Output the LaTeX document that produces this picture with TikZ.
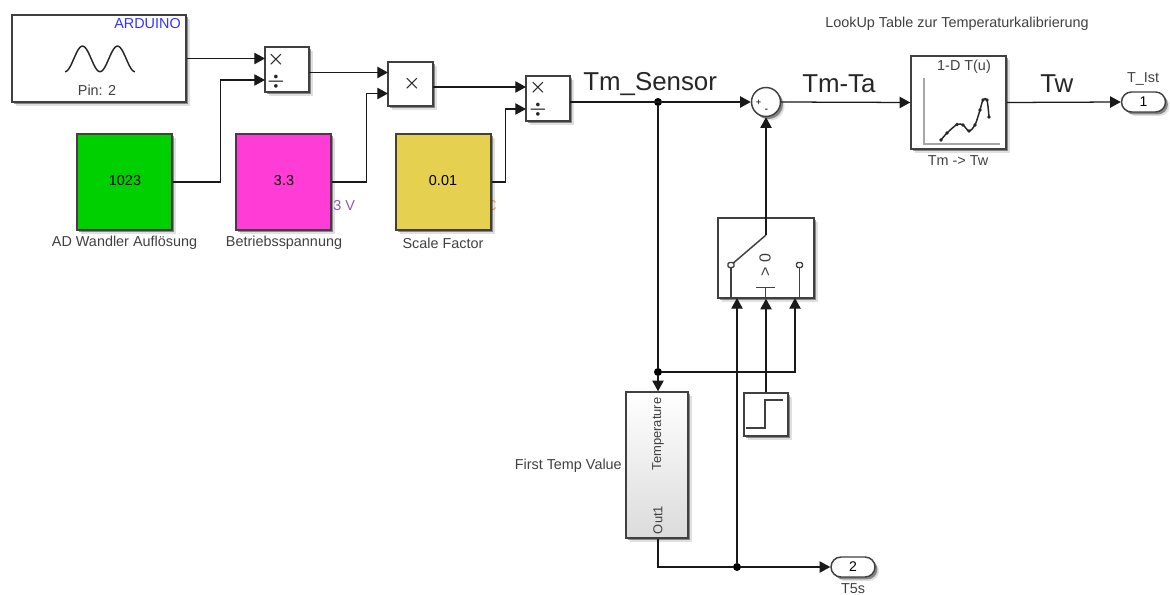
\documentclass[tikz,border=0pt]{standalone}
\usepackage{fontspec}
\setmainfont{Liberation Sans}
\usepackage{xcolor}
\usetikzlibrary{arrows.meta, positioning, calc, shadows, shapes.misc}

\definecolor{konstgruen}{RGB}{0,208,0}
\definecolor{konstmagenta}{RGB}{255,60,214}
\definecolor{konstgelb}{RGB}{230,208,80}

\tikzset{
  block/.style 2 args={draw=black!75, line width=1.1pt, fill=white, inner sep=0pt,
    minimum width=#1*0.75pt, minimum height=#2*0.75pt,
    drop shadow={shadow xshift=3pt, shadow yshift=-3pt, fill=black, opacity=0.12},
    drop shadow={shadow xshift=1.8pt, shadow yshift=-1.8pt, fill=black, opacity=0.4}},
  port/.style={block={44}{20}, rounded rectangle, font=\fontsize{10.5pt}{12pt}\selectfont},
  sig/.style={line width=0.95pt, black!90, -{Triangle[length=8pt, width=8.5pt]}},
  wire/.style={line width=0.95pt, black!90},
  dot/.style={circle, fill=black, inner sep=0pt, minimum size=6pt},
  lbl/.style={black!75, inner sep=0pt, font=\fontsize{10.8pt}{12pt}\selectfont},
  smalllbl/.style={black!75, inner sep=0pt, font=\fontsize{9.7pt}{11pt}\selectfont},
  sym/.style={black!85, inner sep=0pt, font=\fontsize{14pt}{14pt}\selectfont\boldmath},
  big/.style={black!85, inner sep=0pt, font=\fontsize{19.4pt}{22pt}\selectfont},
  icon/.style={line width=1.1pt, black!75},
}

\begin{document}
\begin{tikzpicture}[x=0.75pt, y=-0.75pt]
  \useasboundingbox (0,0) rectangle (1170,595);

  % === Eingang und Konstanten ===
  \node[block={174}{87}] (arduino) at (99,58.5) {};
  \node[lbl, anchor=east, text=blue!80!white] (arduinotxt) at (181,24) {ARDUINO};
  \node[lbl] (pin) at (97,90) {Pin: 2};
  \draw[icon, black!85] plot[domain=0:2, samples=60, smooth] ({65+35*\x}, {58.9+12.8*cos(360*\x)});

  \node[lbl, anchor=west, text={rgb,255:red,140;green,90;blue,190}] (spannungtxt) at (333,206) {3 V};
  \node[lbl, anchor=east, text={rgb,255:red,235;green,180;blue,60}] (faktortxt) at (497,206) {C};

  \node[block={95}{96}, fill=konstgruen] (wandler) at (124.5,182) {};
  \node[lbl, black] (wandlerwert) at (125,181) {1023};
  \node[lbl] (wandlertxt) at (124.5,243) {AD Wandler Auflösung};

  \node[block={95}{96}, fill=konstmagenta] (spannung) at (283.5,182) {};
  \node[lbl, black] (spannungwert) at (284,181) {3.3};
  \node[lbl] (spannungname) at (284,243) {Betriebsspannung};

  \node[block={95}{96}, fill=konstgelb] (faktor) at (443.5,182) {};
  \node[lbl, black] (faktorwert) at (443,181) {0.01};
  \node[lbl] (faktorname) at (443,243) {Scale Factor};

  % === Rechenblöcke ===
  \node[block={44}{45}] (divA) at (287,69.5) {};
  \node[sym] (divAmal) at (276,60) {$\times$};
  \node[sym] (divAdurch) at (276,82) {$\div$};
  \node[block={45}{44}] (mal) at (410.5,84) {};
  \node[sym] (malzeichen) at (412,84) {$\times$};
  \node[block={44}{45}] (divB) at (548,98.5) {};
  \node[sym] (divBmal) at (538,88) {$\times$};
  \node[sym] (divBdurch) at (538,110) {$\div$};

  \coordinate (divAin) at (265,58.5);
  \coordinate (divAinb) at (265,80);
  \coordinate (divAout) at (309,72.5);
  \coordinate (malin) at (388,73);
  \coordinate (malinb) at (388,93.5);
  \coordinate (malout) at (433,87);
  \coordinate (divBin) at (526,87);
  \coordinate (divBinb) at (526,109);
  \coordinate (divBout) at (570,102);

  \draw[sig] (arduino.east) -- (divAin);
  \draw[sig] (wandler.east) -- ++(48,0) |- (divAinb);
  \draw[sig] (divAout) -- (divAout -| malin);
  \draw[sig] (spannung.east) -- ++(35,0) |- (malinb);
  \draw[sig] (malout) -- (divBin);
  \draw[sig] (faktor.east) -- ++(14,0) |- (divBinb);

  % === Summe und Kennlinie ===
  \node[block={29}{29}, circle] (summe) at (766,102) {};
  \node[inner sep=0pt, font=\fontsize{7pt}{7pt}\selectfont] (summeplus) at (758.5,102.5) {+};
  \node[inner sep=0pt, font=\fontsize{8pt}{8pt}\selectfont] (summeminus) at (766.5,110.5) {-};

  \node[block={95}{93}] (kennlinie) at (958.5,102.5) {};
  \node[lbl] (kennlinietyp) at (964,67) {1-D T(u)};
  \node[lbl] (kennlinietxt) at (958,161) {Tm -> Tw};
  \node[lbl] (kennlinietitel) at (957,24) {LookUp Table zur Temperaturkalibrierung};
  \draw[line width=0.8pt, black!35] (924,78) -- (924,144) -- (1000,144);
  \draw[line width=1.1pt, black!85] plot[smooth, mark=*, mark size=0.7pt] coordinates {(941,140) (947,133) (957,124.5) (963,125) (969,131) (975,125) (980,110) (983,100) (987,100) (989,117)};

  \node[port] (tist) at (1143.5,102) {1};
  \node[lbl] (tistname) at (1143,79) {T\_Ist};

  \node[big, anchor=west] (sensortxt) at (583,84) {Tm\_Sensor};
  \node[big, anchor=west] (differenztxt) at (802,84) {Tm-Ta};
  \node[big, anchor=west] (twtxt) at (1040,84) {Tw};

  \node[dot] (abgriff) at (658,102) {};
  \draw[sig] (divBout) -- (summe.west);
  \draw[sig] (summe.east) -- (kennlinie.west);
  \draw[sig] (kennlinie.east) -- (tist.west);

  % === Schalter ===
  \node[block={96}{80}] (schalter) at (766,258) {};
  \coordinate (kontakt) at (766,235);
  \coordinate (kontaktA) at (731,265);
  \coordinate (kontaktB) at (799.5,265);
  \coordinate (portA) at (737,298);
  \coordinate (portC) at (795,298);
  \draw[icon] (kontaktA) -- (kontakt);
  \draw[icon, rounded corners=1pt, fill=white] ($(kontaktA)+(-3,-2.5)$) rectangle ($(kontaktA)+(3,2.5)$);
  \draw[icon, rounded corners=1pt, fill=white] ($(kontaktB)+(-3,-2.5)$) rectangle ($(kontaktB)+(3,2.5)$);
  \draw[icon] ($(kontaktA)+(0,2.5)$) -- (kontaktA |- schalter.south);
  \draw[icon] ($(kontaktB)+(0,2.5)$) -- (kontaktB |- schalter.south);
  \draw[icon] (756,287.5) -- (775,287.5) (765.5,287.5) -- (765.5,298);
  \node[lbl, rotate=90, font=\fontsize{12pt}{12pt}\selectfont] (schwelle) at (765,265) {> 0};
  \draw[sig] (kontakt) -- (summe.south);

  % === Sprung und Startwert ===
  \node[block={44}{43}] (sprung) at (766,414.5) {};
  \draw[icon] (746,428) -- (765,428) -- (765,400) -- (783,400);

  \node[block={62}{146}, top color=white, bottom color=black!14] (startwert) at (657,465) {};
  \node[smalllbl, rotate=90] (starttemp) at (658,434) {Temperature};
  \node[smalllbl, rotate=90] (startout) at (658,520) {Out1};
  \node[lbl, anchor=east] (starttxt) at (622,466) {First Temp Value};

  \node[port] (tfuenf) at (853,567) {2};
  \node[lbl] (tfuenfname) at (853,588.5) {T5s};

  \node[dot] (abzweig) at (658,372) {};
  \node[dot] (ausgang) at (737,567) {};

  \draw[wire] (abgriff) -- (abzweig);
  \draw[sig] (abzweig) -- (startwert.north -| abzweig);
  \draw[sig] (abzweig) -| (portC);
  \draw[sig] (sprung.north) -- (schalter.south);
  \draw[sig] (ausgang) -- (portA);
  \draw[wire] (startwert.south -| abgriff) |- (ausgang);
  \draw[sig] (ausgang) -- (tfuenf.west);
\end{tikzpicture}
\end{document}
